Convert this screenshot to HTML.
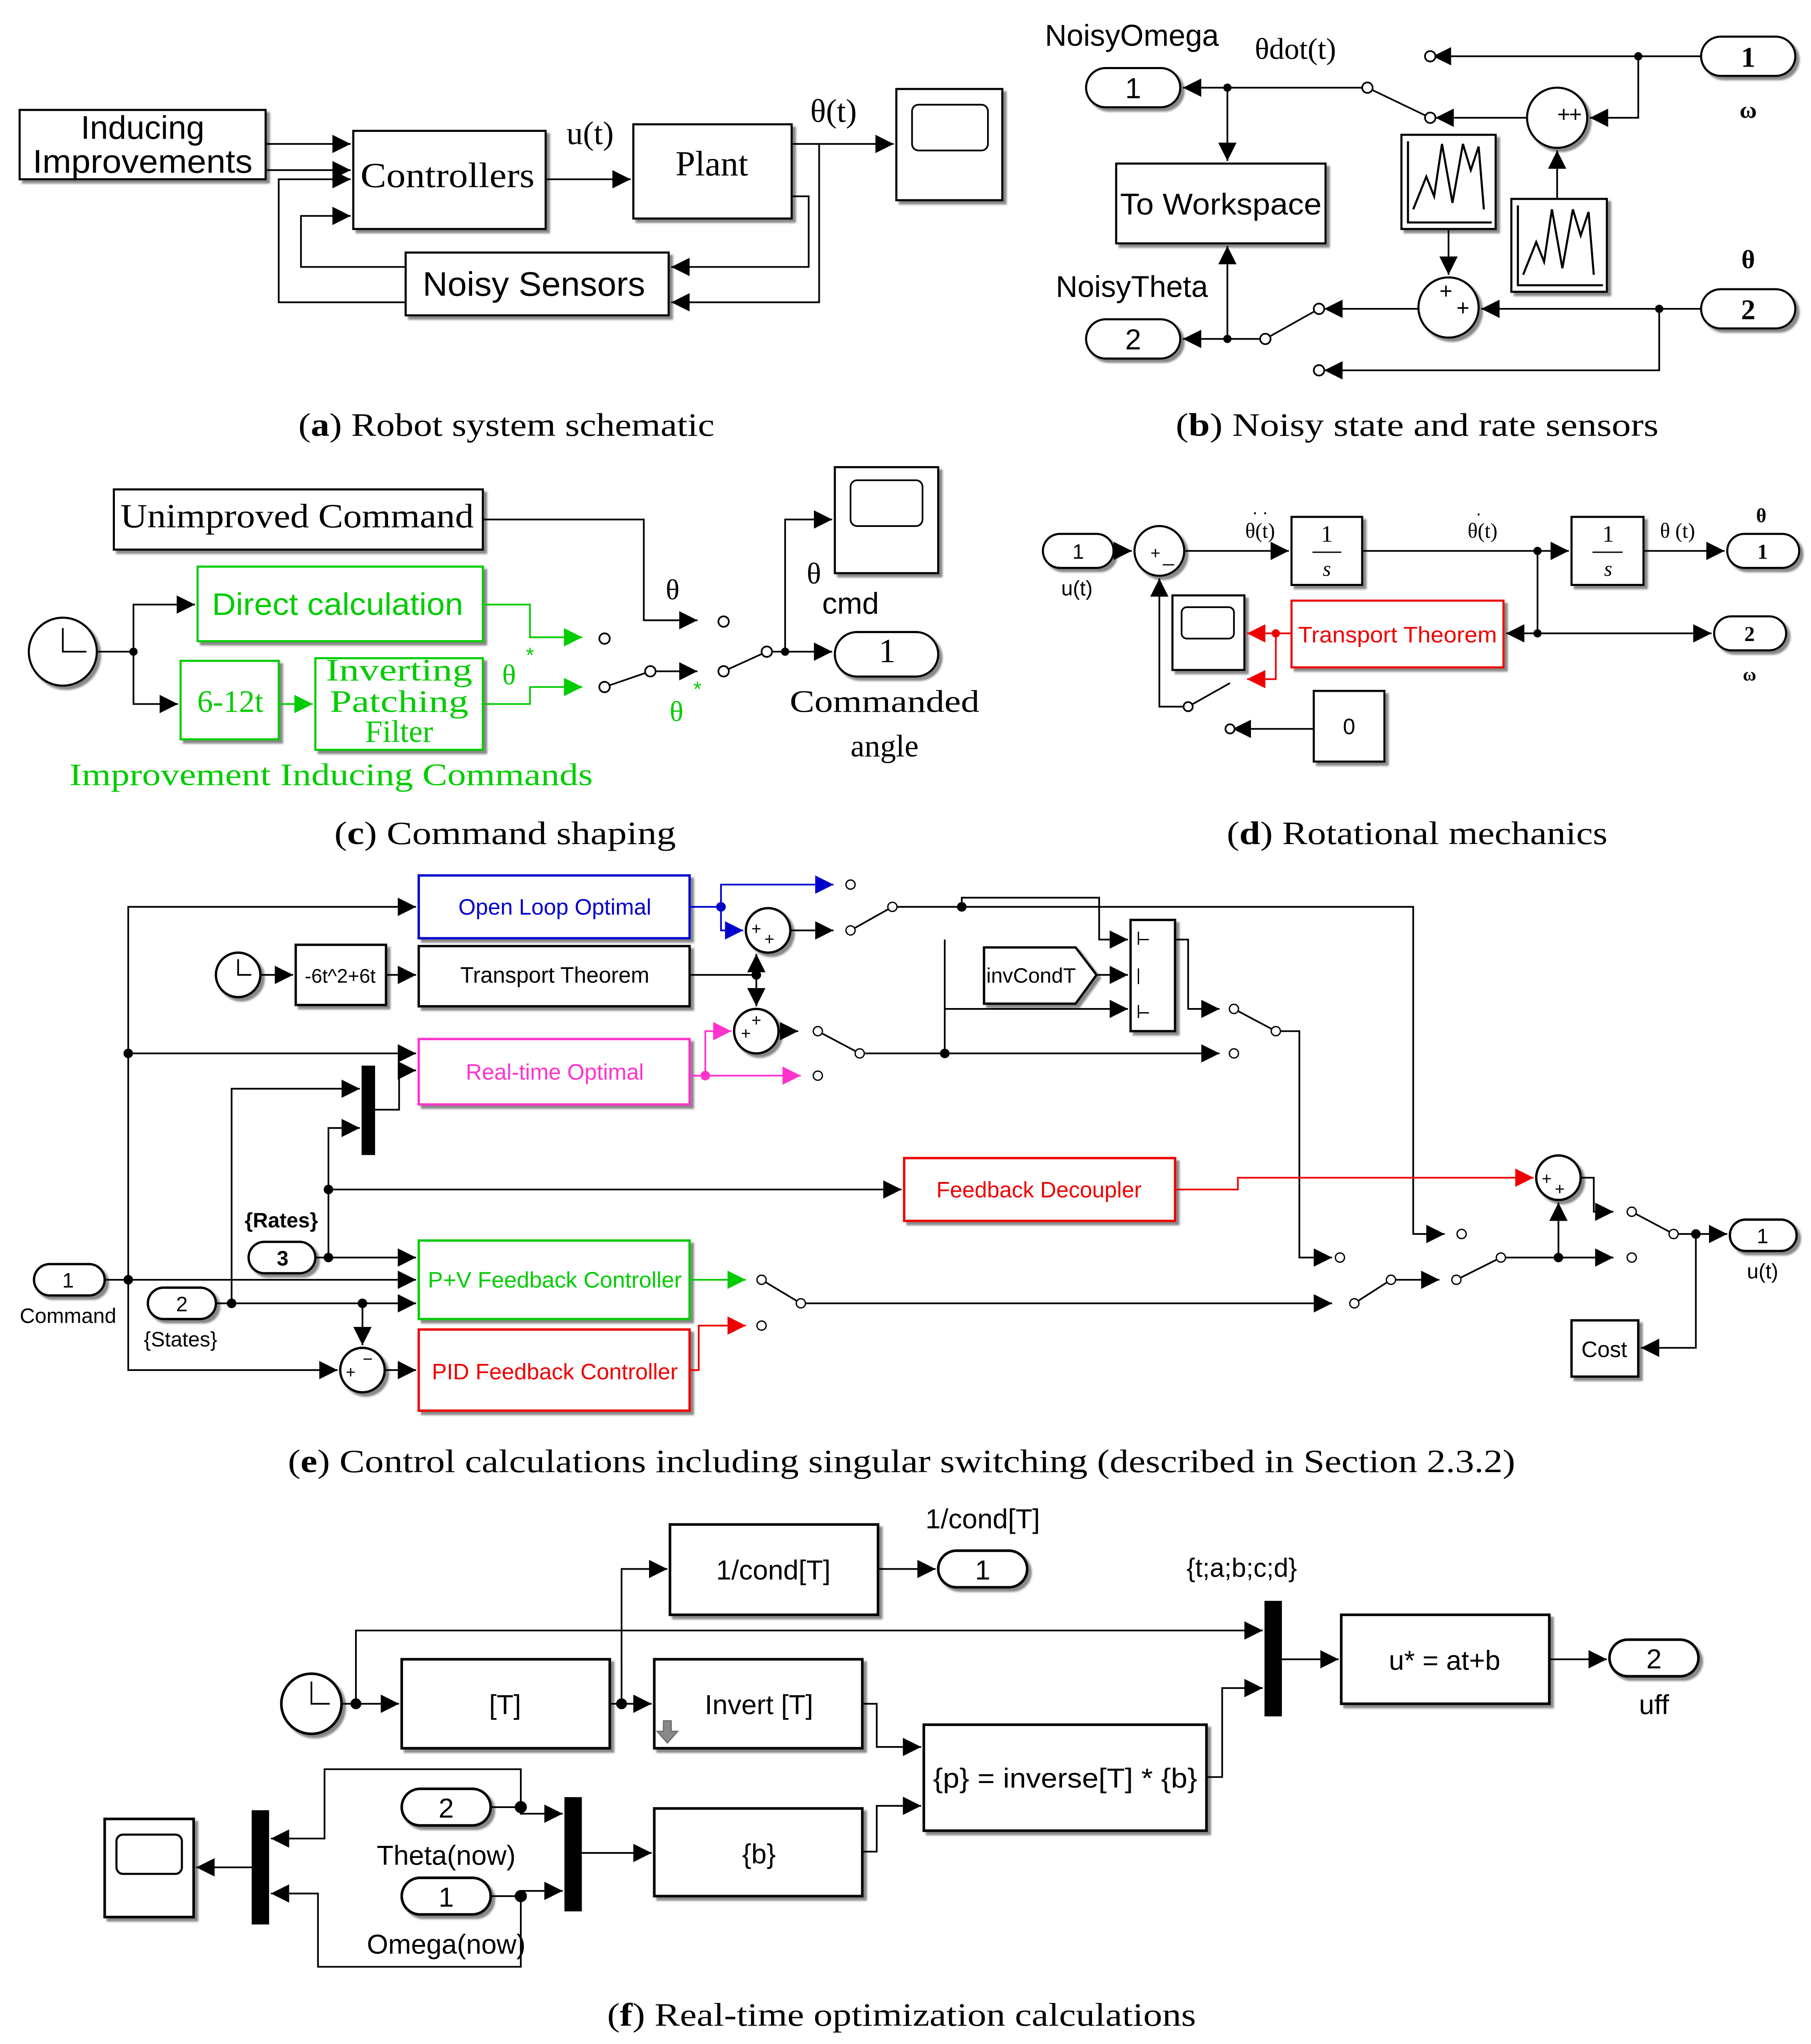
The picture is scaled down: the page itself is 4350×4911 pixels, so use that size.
<!DOCTYPE html>
<html><head><meta charset="utf-8"><style>
html,body{margin:0;padding:0;background:#fff}
svg{display:block}
text{font-family:"Liberation Sans",sans-serif}
.s{font-family:"Liberation Serif",serif}
</style></head><body>
<svg width="4350" height="4911" viewBox="0 0 1384 1562" preserveAspectRatio="none" xmlns="http://www.w3.org/2000/svg">
<defs>
<marker id="a" viewBox="0 0 10 10" refX="10" refY="5" markerWidth="14" markerHeight="14" markerUnits="userSpaceOnUse" orient="auto"><path d="M0,0L10,5L0,10z" fill="#000"/></marker>
<marker id="g" viewBox="0 0 10 10" refX="10" refY="5" markerWidth="14" markerHeight="14" markerUnits="userSpaceOnUse" orient="auto"><path d="M0,0L10,5L0,10z" fill="#0c0"/></marker>
<marker id="r" viewBox="0 0 10 10" refX="10" refY="5" markerWidth="14" markerHeight="14" markerUnits="userSpaceOnUse" orient="auto"><path d="M0,0L10,5L0,10z" fill="#e00"/></marker>
<marker id="b" viewBox="0 0 10 10" refX="10" refY="5" markerWidth="14" markerHeight="14" markerUnits="userSpaceOnUse" orient="auto"><path d="M0,0L10,5L0,10z" fill="#00c"/></marker>
<marker id="m" viewBox="0 0 10 10" refX="10" refY="5" markerWidth="14" markerHeight="14" markerUnits="userSpaceOnUse" orient="auto"><path d="M0,0L10,5L0,10z" fill="#f3c"/></marker>
<filter id="sh" x="-10%" y="-10%" width="130%" height="130%"><feDropShadow dx="2.5" dy="2.5" stdDeviation="0.8" flood-color="#888"/></filter>
</defs>
<g fill="none" stroke="#000" stroke-width="1.3">
<!-- (a) -->
<g filter="url(#sh)" fill="#fff" stroke-width="1.6">
<rect x="15" y="84" width="188" height="53"/><rect x="270" y="100" width="147" height="75"/><rect x="484" y="95" width="121" height="72"/><rect x="310" y="193" width="201" height="48"/><rect x="685" y="68" width="81" height="85"/>
</g>
<rect x="697" y="80" width="58" height="35" rx="5"/>
<path d="M203 110H268" marker-end="url(#a)"/><path d="M203 130H268" marker-end="url(#a)"/>
<path d="M417 137H482" marker-end="url(#a)"/><path d="M605 110H683" marker-end="url(#a)"/>
<path d="M626 110V231H513" marker-end="url(#a)"/><path d="M605 150H618V204H513" marker-end="url(#a)"/>
<path d="M310 204H230V165H268" marker-end="url(#a)"/><path d="M310 231H213V137H268" marker-end="url(#a)"/>
<!-- (b) -->
<g filter="url(#sh)" fill="#fff" stroke-width="1.6">
<rect x="853" y="125" width="160" height="61"/><rect x="1071" y="103" width="72" height="72"/><rect x="1155" y="152" width="73" height="71"/>
<rect x="830" y="52" width="72" height="30" rx="15"/><rect x="830" y="244" width="72" height="30" rx="15"/><rect x="1300" y="28" width="72" height="30" rx="15"/><rect x="1300" y="221" width="72" height="30" rx="15"/>
<circle cx="1190" cy="90" r="23"/><circle cx="1107" cy="235" r="23"/>
</g>
<path d="M1076 108V170H1140M1080 160L1090 135L1096 150L1102 110L1110 155L1118 110L1124 130L1130 112L1134 160" stroke-width="1.6"/>
<path d="M1160 157V218H1225M1164 210L1174 185L1180 200L1186 160L1194 205L1202 160L1208 180L1214 162L1218 210" stroke-width="1.6"/>
<path d="M1045 67H904" marker-end="url(#a)"/><path d="M938 67V123" marker-end="url(#a)"/>
<path d="M967 259H904" marker-end="url(#a)"/><path d="M938 259V188" marker-end="url(#a)"/>
<path d="M1300 43H1095" marker-end="url(#a)"/><path d="M1252 43V90H1215" marker-end="url(#a)"/>
<path d="M1167 90H1097" marker-end="url(#a)"/><path d="M1045 67L1093 90"/>
<path d="M1107 175V210" marker-end="url(#a)"/><path d="M1190 152V115" marker-end="url(#a)"/>
<path d="M1300 236H1132" marker-end="url(#a)"/><path d="M1084 236H1012" marker-end="url(#a)"/><path d="M967 259L1008 236"/>
<path d="M1268 236V283H1012" marker-end="url(#a)"/>
<g fill="#fff"><circle cx="1045" cy="67" r="4"/><circle cx="1093" cy="90" r="4"/><circle cx="1093" cy="43" r="4"/><circle cx="967" cy="259" r="4"/><circle cx="1008" cy="236" r="4"/><circle cx="1008" cy="283" r="4"/></g>
<g fill="#000"><circle cx="938" cy="67" r="2.5"/><circle cx="938" cy="259" r="2.5"/><circle cx="1252" cy="43" r="2.5"/><circle cx="1268" cy="236" r="2.5"/></g>
<!-- (c) -->
<g filter="url(#sh)" fill="#fff" stroke-width="1.6">
<rect x="87" y="374" width="282" height="46"/><rect x="638" y="357" width="79" height="81"/><rect x="638" y="483" width="79" height="34" rx="17"/><circle cx="48" cy="498" r="26"/>
<rect x="151" y="433" width="218" height="57" stroke="#0c0"/><rect x="138" y="505" width="75" height="60" stroke="#0c0"/><rect x="241" y="503" width="128" height="70" stroke="#0c0"/>
</g>
<rect x="650" y="367" width="55" height="35" rx="5"/><path d="M48 480V498H66"/>
<path d="M369 397H492V474H533" marker-end="url(#a)"/>
<path d="M74 498H102V462H149" marker-end="url(#a)"/><path d="M102 498V538H136" marker-end="url(#a)"/>
<g stroke="#0c0"><path d="M213 538H239" marker-end="url(#g)"/><path d="M369 462H405V487H445" marker-end="url(#g)"/><path d="M369 538H405V525H445" marker-end="url(#g)"/></g>
<path d="M462 525L497 513"/><path d="M497 513H533" marker-end="url(#a)"/><path d="M553 513L586 498H600V397H636" marker-end="url(#a)"/><path d="M600 498H636" marker-end="url(#a)"/>
<g fill="#fff"><circle cx="553" cy="475" r="4"/><circle cx="462" cy="488" r="4"/><circle cx="462" cy="525" r="4"/><circle cx="497" cy="513" r="4"/><circle cx="553" cy="513" r="4"/><circle cx="586" cy="498" r="4"/></g>
<circle cx="600" cy="498" r="2.5" fill="#000"/><circle cx="102" cy="498" r="2.5" fill="#000"/>
<!-- (d) -->
<g filter="url(#sh)" fill="#fff" stroke-width="1.6">
<rect x="797" y="408" width="54" height="26" rx="13"/><circle cx="886" cy="421" r="19"/><rect x="987" y="395" width="54" height="52"/><rect x="1201" y="395" width="55" height="52"/>
<rect x="1320" y="408" width="55" height="26" rx="13"/><rect x="1310" y="471" width="55" height="26" rx="13"/><rect x="987" y="459" width="162" height="51" stroke="#e00"/><rect x="896" y="455" width="55" height="57"/><rect x="1004" y="528" width="54" height="54"/>
</g>
<rect x="903" y="464" width="40" height="24" rx="4"/>
<path d="M1003 422H1025M1217 422H1240" stroke-width="1"/>
<path d="M851 421H865" marker-end="url(#a)"/><path d="M905 421H985" marker-end="url(#a)"/><path d="M1041 421H1199" marker-end="url(#a)"/><path d="M1256 421H1318" marker-end="url(#a)"/>
<path d="M1175 421V484H1308" marker-end="url(#a)"/><path d="M1175 484H1151" marker-end="url(#a)"/>
<g stroke="#e00"><path d="M987 484H953" marker-end="url(#r)"/><path d="M975 484V519H953" marker-end="url(#r)"/></g>
<path d="M908 540H886V442" marker-end="url(#a)"/><path d="M908 540L940 522"/><path d="M1004 557H942" marker-end="url(#a)"/>
<g fill="#fff"><circle cx="908" cy="540" r="3.5"/><circle cx="940" cy="557" r="3.5"/></g>
<g fill="#000"><circle cx="1175" cy="421" r="2.5"/><circle cx="1175" cy="484" r="2.5"/></g>
<circle cx="975" cy="484" r="2.5" fill="#e00" stroke="#e00"/>
<!-- (e) -->
<g filter="url(#sh)" fill="#fff" stroke-width="1.8">
<rect x="320" y="669" width="207" height="48" stroke="#00c"/><rect x="320" y="723" width="207" height="46"/><rect x="226" y="722" width="69" height="46"/>
<rect x="320" y="794" width="207" height="50" stroke="#f3c"/><rect x="691" y="885" width="207" height="48" stroke="#e00"/>
<rect x="320" y="948" width="207" height="60" stroke="#0c0"/><rect x="320" y="1016" width="207" height="62" stroke="#e00"/>
<rect x="1201" y="1009" width="51" height="43"/><rect x="864" y="703" width="34" height="85"/>
<path d="M752 724H822L838 745L822 767H752Z"/>
<circle cx="182" cy="745" r="17"/><circle cx="587" cy="711" r="17"/><circle cx="578" cy="788" r="17"/><circle cx="277" cy="1047" r="17"/><circle cx="1191" cy="900" r="17"/>
<rect x="26" y="966" width="54" height="24" rx="12"/><rect x="113" y="984" width="52" height="24" rx="12"/><rect x="190" y="949" width="51" height="24" rx="12"/><rect x="1322" y="932" width="51" height="24" rx="12"/>
</g>
<rect x="277" y="815" width="9" height="67" fill="#000"/>
<path d="M182 733V745H192"/>
<path d="M870 712V722M870 740V752M870 768V778M870 718H878M870 774H878" stroke-width="1"/>
<path d="M80 978H318" marker-end="url(#a)"/><path d="M98 978V693H318" marker-end="url(#a)"/><path d="M98 805H318" marker-end="url(#a)"/><path d="M98 978V1047H258" marker-end="url(#a)"/>
<path d="M165 996H318" marker-end="url(#a)"/><path d="M177 996V832H275" marker-end="url(#a)"/><path d="M277 996V1028" marker-end="url(#a)"/>
<path d="M241 961H318" marker-end="url(#a)"/><path d="M251 961V909H689" marker-end="url(#a)"/><path d="M251 909V862H275" marker-end="url(#a)"/>
<path d="M286 848H305V818H318" marker-end="url(#a)"/><path d="M294 1047H318" marker-end="url(#a)"/>
<path d="M199 745H224" marker-end="url(#a)"/><path d="M295 745H318" marker-end="url(#a)"/>
<path d="M527 745H578V729" marker-end="url(#a)"/><path d="M578 745V769" marker-end="url(#a)"/>
<g stroke="#00c"><path d="M527 693H551V676H637" marker-end="url(#b)"/><path d="M551 693V711H568" marker-end="url(#b)"/></g>
<path d="M604 711H637" marker-end="url(#a)"/><path d="M650 711L682 693H1080V943H1104" marker-end="url(#a)"/>
<path d="M735 693V686H840V718H862" marker-end="url(#a)"/><path d="M838 745H862" marker-end="url(#a)"/><path d="M722 805V718H722V771H862" marker-end="url(#a)"/>
<path d="M898 718H908V771H932" marker-end="url(#a)"/><path d="M943 771L975 788H993V961H1018" marker-end="url(#a)"/>
<path d="M595 788H610"  marker-end="url(#a)"/><path d="M625 788L657 805H932" marker-end="url(#a)"/>
<g stroke="#f3c"><path d="M527 822H612" marker-end="url(#m)"/><path d="M539 822V788H559" marker-end="url(#m)"/></g>
<path d="M898 909H946V900H1172" stroke="#e00" marker-end="url(#r)"/>
<path d="M527 978H570" stroke="#0c0" marker-end="url(#g)"/><path d="M582 978L612 996H1018" marker-end="url(#a)"/>
<path d="M1035 996L1063 978H1100" marker-end="url(#a)"/><path d="M1113 978L1147 961H1233" marker-end="url(#a)"/><path d="M1191 961V919" marker-end="url(#a)"/>
<path d="M1208 900H1218V926H1233" marker-end="url(#a)"/><path d="M1247 926L1279 943H1320" marker-end="url(#a)"/><path d="M1296 943V1030H1254" marker-end="url(#a)"/>
<path d="M527 1047H534V1013H570" stroke="#e00" marker-end="url(#r)"/>
<g fill="#fff" stroke-width="1"><circle cx="650" cy="676" r="3.5"/><circle cx="650" cy="711" r="3.5"/><circle cx="682" cy="693" r="3.5"/><circle cx="625" cy="788" r="3.5"/><circle cx="657" cy="805" r="3.5"/><circle cx="625" cy="822" r="3.5"/><circle cx="943" cy="771" r="3.5"/><circle cx="975" cy="788" r="3.5"/><circle cx="943" cy="805" r="3.5"/><circle cx="1117" cy="943" r="3.5"/><circle cx="1024" cy="961" r="3.5"/><circle cx="582" cy="978" r="3.5"/><circle cx="612" cy="996" r="3.5"/><circle cx="1035" cy="996" r="3.5"/><circle cx="1063" cy="978" r="3.5"/><circle cx="1113" cy="978" r="3.5"/><circle cx="1147" cy="961" r="3.5"/><circle cx="1247" cy="961" r="3.5"/><circle cx="1247" cy="926" r="3.5"/><circle cx="1279" cy="943" r="3.5"/><circle cx="582" cy="1013" r="3.5"/></g>
<g fill="#000"><circle cx="98" cy="978" r="3"/><circle cx="98" cy="805" r="3"/><circle cx="177" cy="996" r="3"/><circle cx="277" cy="996" r="3"/><circle cx="251" cy="961" r="3"/><circle cx="251" cy="909" r="3"/><circle cx="578" cy="745" r="3"/><circle cx="735" cy="693" r="3"/><circle cx="722" cy="805" r="3"/><circle cx="1191" cy="961" r="3"/><circle cx="1296" cy="943" r="3"/></g>
<circle cx="551" cy="693" r="3" fill="#00c" stroke="#00c"/><circle cx="539" cy="822" r="3" fill="#f3c" stroke="#f3c"/>
<!-- (f) -->
<g filter="url(#sh)" fill="#fff" stroke-width="2">
<rect x="512" y="1165" width="159" height="69"/><rect x="1025" y="1234" width="159" height="68"/><rect x="307" y="1268" width="159" height="68"/><rect x="500" y="1268" width="159" height="68"/>
<rect x="706" y="1318" width="216" height="81"/><rect x="500" y="1382" width="159" height="67"/><rect x="80" y="1390" width="68" height="75"/><circle cx="238" cy="1302" r="23"/>
<rect x="717" y="1185" width="68" height="28" rx="14"/><rect x="1230" y="1253" width="68" height="28" rx="14"/><rect x="307" y="1367" width="68" height="28" rx="14"/><rect x="307" y="1435" width="68" height="28" rx="14"/>
</g>
<rect x="89" y="1402" width="50" height="30" rx="5" stroke-width="1.6"/><path d="M238 1285V1302H252"/>
<g fill="#000"><rect x="967" y="1224" width="12" height="87"/><rect x="432" y="1374" width="12" height="86"/><rect x="193" y="1384" width="12" height="86"/></g>
<path d="M261 1302H305" marker-end="url(#a)"/><path d="M272 1302V1246H965" marker-end="url(#a)"/>
<path d="M466 1302H498" marker-end="url(#a)"/><path d="M475 1302V1199H510" marker-end="url(#a)"/>
<path d="M671 1199H715" marker-end="url(#a)"/><path d="M979 1268H1023" marker-end="url(#a)"/><path d="M1184 1268H1228" marker-end="url(#a)"/>
<path d="M659 1302H670V1335H704" marker-end="url(#a)"/><path d="M659 1415H670V1380H704" marker-end="url(#a)"/>
<path d="M922 1358H934V1290H965" marker-end="url(#a)"/><path d="M444 1416H498" marker-end="url(#a)"/>
<path d="M375 1381H398V1386H430" marker-end="url(#a)"/><path d="M375 1449H398V1445H430" marker-end="url(#a)"/>
<path d="M398 1381V1352H248V1405H207" marker-end="url(#a)"/><path d="M398 1449V1503H243V1447H207" marker-end="url(#a)"/>
<path d="M193 1427H150" marker-end="url(#a)"/>
<path d="M507 1315L513 1315L513 1323L518 1323L510 1332L502 1323L507 1323Z" fill="#888" stroke="#666" stroke-width="0.8"/>
<g fill="#000"><circle cx="272" cy="1302" r="3.5"/><circle cx="475" cy="1302" r="3.5"/><circle cx="398" cy="1381" r="4"/><circle cx="398" cy="1449" r="4"/></g>
</g>
<!-- TEXT -->
<g fill="#000" text-anchor="middle">
<text x="109" y="106" font-size="25">Inducing</text><text x="109" y="132" font-size="25" textLength="168" lengthAdjust="spacingAndGlyphs">Improvements</text>
<text x="342" y="143" font-size="27" class="s" textLength="133" lengthAdjust="spacingAndGlyphs">Controllers</text><text x="544" y="134" font-size="27" class="s">Plant</text>
<text x="408" y="226" font-size="26" textLength="170" lengthAdjust="spacingAndGlyphs">Noisy Sensors</text>
<text x="451" y="110" font-size="25" class="s">u(t)</text><text x="637" y="93" font-size="25" class="s">θ(t)</text>
<text x="387" y="333" font-size="25" class="s" textLength="318" lengthAdjust="spacingAndGlyphs">(<tspan font-weight="bold">a</tspan>) Robot system schematic</text>
<text x="865" y="35" font-size="23">NoisyOmega</text><text x="990" y="45" font-size="23" class="s">θdot(t)</text>
<text x="866" y="75" font-size="22">1</text><text x="866" y="267" font-size="22">2</text>
<text x="933" y="164" font-size="23" textLength="154" lengthAdjust="spacingAndGlyphs">To Workspace</text><text x="865" y="227" font-size="23">NoisyTheta</text>
<text x="1336" y="51" font-size="22" class="s" font-weight="bold">1</text><text x="1336" y="90" font-size="18" class="s" font-weight="bold">ω</text>
<text x="1336" y="205" font-size="20" class="s" font-weight="bold">θ</text><text x="1336" y="244" font-size="22" class="s" font-weight="bold">2</text>
<text x="1195" y="93" font-size="17">+</text><text x="1204" y="93" font-size="17">+</text><text x="1105" y="228" font-size="17">+</text><text x="1118" y="241" font-size="17">+</text>
<text x="1083" y="333" font-size="25" class="s" textLength="369" lengthAdjust="spacingAndGlyphs">(<tspan font-weight="bold">b</tspan>) Noisy state and rate sensors</text>
<text x="227" y="403" font-size="26" class="s" textLength="270" lengthAdjust="spacingAndGlyphs">Unimproved Command</text>
<text x="678" y="506" font-size="26" class="s">1</text><text x="622" y="446" font-size="23" class="s">θ</text><text x="650" y="469" font-size="23">cmd</text>
<text x="676" y="544" font-size="24" class="s" textLength="145" lengthAdjust="spacingAndGlyphs">Commanded</text><text x="676" y="578" font-size="24" class="s">angle</text>
<text x="514" y="458" font-size="22" class="s">θ</text>
<g fill="#0c0"><text x="258" y="470" font-size="24" textLength="192" lengthAdjust="spacingAndGlyphs">Direct calculation</text><text x="176" y="544" font-size="24" class="s">6-12t</text>
<text x="305" y="520" font-size="24" class="s" textLength="112" lengthAdjust="spacingAndGlyphs">Inverting</text><text x="305" y="544" font-size="24" class="s" textLength="106" lengthAdjust="spacingAndGlyphs">Patching</text><text x="305" y="567" font-size="24" class="s">Filter</text>
<text x="389" y="523" font-size="22" class="s">θ</text><text x="405" y="506" font-size="16">*</text><text x="517" y="551" font-size="22" class="s">θ</text><text x="533" y="532" font-size="16">*</text>
<text x="253" y="600" font-size="24" class="s" textLength="400" lengthAdjust="spacingAndGlyphs">Improvement Inducing Commands</text></g>
<text x="386" y="645" font-size="25" class="s" textLength="261" lengthAdjust="spacingAndGlyphs">(<tspan font-weight="bold">c</tspan>) Command shaping</text>
<text x="824" y="427" font-size="16">1</text><text x="823" y="455" font-size="16">u(t)</text>
<text x="883" y="427" font-size="13">+</text><text x="893" y="429" font-size="15">_</text>
<text x="963" y="411" font-size="16" class="s">θ(t)</text><text x="963" y="393" font-size="14">. .</text>
<text x="1014" y="414" font-size="18" class="s">1</text><text x="1014" y="440" font-size="16" class="s" font-style="italic">s</text>
<text x="1133" y="411" font-size="16" class="s">θ(t)</text><text x="1130" y="394" font-size="14">.</text>
<text x="1229" y="414" font-size="18" class="s">1</text><text x="1229" y="440" font-size="16" class="s" font-style="italic">s</text>
<text x="1282" y="411" font-size="16" class="s">θ (t)</text><text x="1346" y="399" font-size="15" class="s" font-weight="bold">θ</text>
<text x="1347" y="427" font-size="16" class="s" font-weight="bold">1</text><text x="1337" y="490" font-size="16" class="s" font-weight="bold">2</text><text x="1337" y="520" font-size="14" class="s" font-weight="bold">ω</text>
<text x="1068" y="491" font-size="17" fill="#e00" textLength="152" lengthAdjust="spacingAndGlyphs">Transport Theorem</text><text x="1031" y="561" font-size="17">0</text>
<text x="1083" y="645" font-size="25" class="s" textLength="291" lengthAdjust="spacingAndGlyphs">(<tspan font-weight="bold">d</tspan>) Rotational mechanics</text>
<text x="424" y="699" font-size="17" fill="#00c">Open Loop Optimal</text><text x="424" y="751" font-size="17">Transport Theorem</text>
<text x="260" y="751" font-size="15">-6t^2+6t</text><text x="788" y="751" font-size="16">invCondT</text>
<text x="424" y="825" font-size="17" fill="#f3c">Real-time Optimal</text><text x="794" y="915" font-size="17" fill="#e00">Feedback Decoupler</text>
<text x="424" y="984" font-size="17" fill="#0c0" textLength="194" lengthAdjust="spacingAndGlyphs">P+V Feedback Controller</text><text x="424" y="1054" font-size="17" fill="#e00" textLength="188" lengthAdjust="spacingAndGlyphs">PID Feedback Controller</text>
<text x="1226" y="1037" font-size="17">Cost</text>
<text x="52" y="984" font-size="16">1</text><text x="52" y="1011" font-size="16">Command</text><text x="139" y="1002" font-size="16">2</text><text x="138" y="1029" font-size="16">{States}</text>
<text x="216" y="967" font-size="16" font-weight="bold">3</text><text x="215" y="938" font-size="16" font-weight="bold">{Rates}</text>
<text x="1347" y="950" font-size="16">1</text><text x="1347" y="977" font-size="16">u(t)</text>
<g font-size="13"><text x="578" y="714">+</text><text x="588" y="722">+</text><text x="578" y="784">+</text><text x="570" y="794">+</text><text x="268" y="1053">+</text><text x="281" y="1043">−</text><text x="1182" y="905">+</text><text x="1192" y="913">+</text></g>
<text x="689" y="1125" font-size="25" class="s" textLength="938" lengthAdjust="spacingAndGlyphs">(<tspan font-weight="bold">e</tspan>) Control calculations including singular switching (described in Section 2.3.2)</text>
<text x="591" y="1207" font-size="21">1/cond[T]</text><text x="751" y="1168" font-size="21">1/cond[T]</text><text x="751" y="1207" font-size="21">1</text>
<text x="949" y="1205" font-size="20">{t;a;b;c;d}</text><text x="1104" y="1276" font-size="21">u* = at+b</text>
<text x="1264" y="1275" font-size="21">2</text><text x="1264" y="1310" font-size="21">uff</text>
<text x="386" y="1310" font-size="21">[T]</text><text x="580" y="1310" font-size="21">Invert [T]</text>
<text x="814" y="1366" font-size="21" textLength="202" lengthAdjust="spacingAndGlyphs">{p} = inverse[T] * {b}</text><text x="580" y="1424" font-size="21">{b}</text>
<text x="341" y="1389" font-size="21">2</text><text x="341" y="1425" font-size="21">Theta(now)</text><text x="341" y="1457" font-size="21">1</text><text x="341" y="1493" font-size="21">Omega(now)</text>
<text x="689" y="1548" font-size="25" class="s" textLength="450" lengthAdjust="spacingAndGlyphs">(<tspan font-weight="bold">f</tspan>) Real-time optimization calculations</text>
</g>
</svg>
</body></html>
